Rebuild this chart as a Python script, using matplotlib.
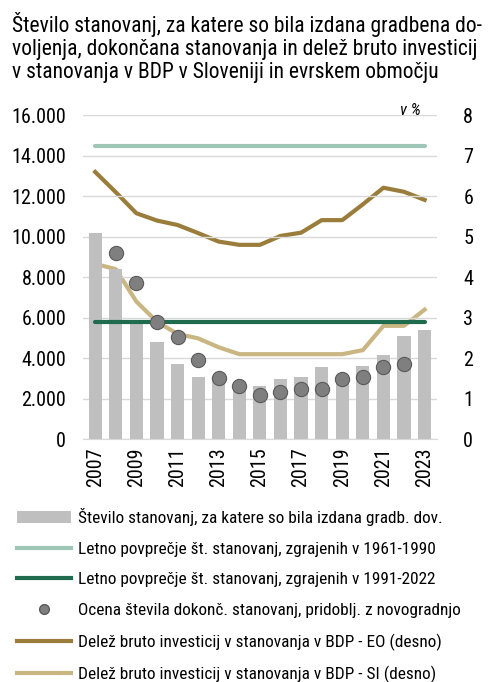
import matplotlib
matplotlib.use("Agg")
import matplotlib.pyplot as plt
from matplotlib.lines import Line2D
from matplotlib.patches import Patch
import numpy as np

plt.rcParams['font.family'] = ['Roboto Condensed', 'DejaVu Sans']

years = list(range(2007, 2024))
permits = [10200, 8400, 5900, 4800, 3720, 3090, 2900, 2600, 2630, 2960, 3090, 3590, 3100, 3630, 4160, 5080, 5410]
completed = [None, 9190, 7730, 5810, 5070, 3920, 3040, 2630, 2190, 2350, 2470, 2500, 2980, 3080, 3560, 3730, None]
eo_share = [6.6, 6.1, 5.58, 5.4, 5.29, 5.09, 4.88, 4.8, 4.8, 5.02, 5.1, 5.41, 5.41, 5.8, 6.21, 6.11, 5.91]
si_share = [4.33, 4.2, 3.4, 2.9, 2.6, 2.49, 2.27, 2.1, 2.1, 2.1, 2.1, 2.1, 2.1, 2.2, 2.8, 2.8, 3.2]
avg_1961_1990 = 14500
avg_1991_2022 = 5800
left_ticks = [0, 2000, 4000, 6000, 8000, 10000, 12000, 14000, 16000]
right_ticks = [0, 1, 2, 3, 4, 5, 6, 7, 8]

title = ("Število stanovanj, za katere so bila izdana gradbena do-\n"
         "voljenja, dokončana stanovanja in delež bruto investicij\n"
         "v stanovanja v BDP v Sloveniji in evrskem območju")
labels = [
    "Število stanovanj, za katere so bila izdana gradb. dov.",
    "Letno povprečje št. stanovanj, zgrajenih v 1961-1990",
    "Letno povprečje št. stanovanj, zgrajenih v 1991-2022",
    "Ocena števila dokonč. stanovanj, pridoblj. z novogradnjo",
    "Delež bruto investicij v stanovanja v BDP - EO (desno)",
    "Delež bruto investicij v stanovanja v BDP - SI (desno)",
]

c_bar = '#bfbfbf'
c_light = '#9fc5b6'
c_dark = '#1f6b4e'
c_eo = '#9a7d3a'
c_si = '#c9b683'
c_dot = '#7f7f7f'

fig = plt.figure(figsize=(4.96, 6.82), dpi=100)
ax = fig.add_axes([0.167, 0.356, 0.714, 0.475])
x = np.arange(len(years))

ax.bar(x, permits, width=0.64, color=c_bar, zorder=2)
ax.plot([x[0], x[-1]], [avg_1961_1990] * 2, color=c_light, lw=3, solid_capstyle='round', zorder=3)
ax.plot([x[0], x[-1]], [avg_1991_2022] * 2, color=c_dark, lw=3, solid_capstyle='round', zorder=3)
cx = [xi for xi, v in zip(x, completed) if v is not None]
cy = [v for v in completed if v is not None]
ax.scatter(cx, cy, s=105, color=c_dot, edgecolor='#5a5a5a', linewidth=0.8, zorder=6)

ax.set_ylim(0, 16000)
ax.set_xlim(-0.6, len(years) - 0.4)
ax.set_yticks(left_ticks)
ax.set_yticklabels([f"{t:,}".replace(",", ".") for t in left_ticks], fontsize=14.5)
ax.set_xticks(x[::2])
ax.set_xticklabels([str(y) for y in years[::2]], rotation=90, fontsize=14.5)
ax.tick_params(axis='y', length=0, pad=12)
ax.tick_params(axis='x', length=0, pad=6)
ax.grid(axis='y', color='#d9d9d9', lw=1, zorder=0)
ax.set_axisbelow(True)
for s in ['top', 'right', 'left']:
    ax.spines[s].set_visible(False)
ax.spines['bottom'].set_color('#d9d9d9')

ax2 = ax.twinx()
ax2.plot(x, eo_share, color=c_eo, lw=3, zorder=4)
ax2.plot(x, si_share, color=c_si, lw=3, zorder=4)
ax2.set_ylim(0, 8)
ax2.set_yticks(right_ticks)
ax2.set_yticklabels([str(t) for t in right_ticks], fontsize=14.5)
ax2.tick_params(axis='y', length=0, pad=19)
for s in ax2.spines.values():
    s.set_visible(False)
ax.set_zorder(ax2.get_zorder() + 1)
ax.patch.set_visible(False)

ax2.text(0.955, 0.99, "v %", transform=ax2.transAxes, ha='right', va='bottom',
         fontsize=12, style='italic')

fig.text(0.024, 0.983, title, ha='left', va='top', fontsize=15.5, linespacing=1.13)

handles = [
    Patch(facecolor=c_bar, edgecolor='none'),
    Line2D([0], [0], color=c_light, lw=3),
    Line2D([0], [0], color=c_dark, lw=3),
    Line2D([0], [0], marker='o', color='none', markerfacecolor=c_dot,
           markeredgecolor='#5a5a5a', markersize=7),
    Line2D([0], [0], color=c_eo, lw=3),
    Line2D([0], [0], color=c_si, lw=3),
]
fig.legend(handles, labels, loc='upper left', bbox_to_anchor=(0.035, 0.255),
           frameon=False, fontsize=12.4, handlelength=3.1, handletextpad=0.45,
           labelspacing=0.9, borderaxespad=0, borderpad=0)

fig.savefig("out.png", dpi=100)
